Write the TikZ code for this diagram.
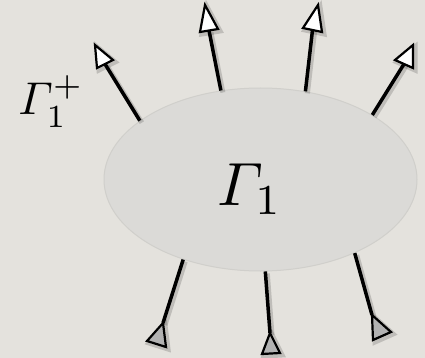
\documentclass[tikz,border=0pt]{standalone}
\usepackage{amsmath}
\usetikzlibrary{shapes.geometric}
\definecolor{paper}{HTML}{E4E2DD}
\definecolor{blobgray}{HTML}{DBDAD7}
\definecolor{blobedge}{HTML}{D0CFCB}
\definecolor{tipgray}{HTML}{B2B2B2}
\tikzset{
  softshadow/.style={preaction={draw=black, draw opacity=0.16, fill opacity=0.16, line width=5pt, transform canvas={shift={(2pt,-2pt)}}}},
  shaft/.style={line width=3.5pt, softshadow},
  tipout/.style={draw=black, fill=white, line width=2.2pt, line join=miter, softshadow},
  tipin/.style={draw=black, fill=tipgray, line width=2.2pt, line join=miter, softshadow},
  blobstyle/.style={ellipse, minimum width=313pt, minimum height=183pt, inner sep=0pt, fill=blobgray, draw=blobedge, line width=1pt},
  txtstyle/.style={inner sep=0pt, anchor=base}
}
\begin{document}
\begin{tikzpicture}[x=1pt,y=-1pt]
\fill[paper] (0,0) rectangle (425,358);
\useasboundingbox (0,0) rectangle (425,358);
\node[blobstyle] (blob) at (260.5,179.5) {};
\node[txtstyle] (g1) at (250,205) {\scalebox{6.1}{$\varGamma_{1}$}};
\node[txtstyle] (g1p) at (51,115) {\scalebox{4.6}{$\varGamma_{1}^{+}$}};
% outgoing arrow heads: apex a, base corners b c, base middle m
\coordinate (t1a) at (95,45);  \coordinate (t1b) at (113,60); \coordinate (t1c) at (97,68);  \coordinate (t1m) at (105,64);
\coordinate (t2a) at (205,5);  \coordinate (t2b) at (218,29); \coordinate (t2c) at (200,32); \coordinate (t2m) at (209,30.5);
\coordinate (t3a) at (318,5);  \coordinate (t3b) at (322,32); \coordinate (t3c) at (303,28); \coordinate (t3m) at (312.5,30);
\coordinate (t4a) at (413,45); \coordinate (t4b) at (413,68); \coordinate (t4c) at (395,60); \coordinate (t4m) at (404,64);
% incoming arrow heads
\coordinate (b1a) at (163,323); \coordinate (b1b) at (166,347); \coordinate (b1c) at (147,341);
\coordinate (b2a) at (270,333); \coordinate (b2b) at (280,353); \coordinate (b2c) at (262,354);
\coordinate (b3a) at (372,315); \coordinate (b3b) at (391,332); \coordinate (b3c) at (373,340);
\draw[shaft] (blob.154.5) -- (t1m);
\draw[shaft] (blob.114.7) -- (t2m);
\draw[shaft] (blob.63.4) -- (t3m);
\draw[shaft] (blob.30) -- (t4m);
\draw[shaft] (blob.-134) -- (b1a);
\draw[shaft] (blob.-87.4) -- (b2a);
\draw[shaft] (blob.-38.2) -- (b3a);
\draw[tipout] (t1a) -- (t1b) -- (t1c) -- cycle;
\draw[tipout] (t2a) -- (t2b) -- (t2c) -- cycle;
\draw[tipout] (t3a) -- (t3b) -- (t3c) -- cycle;
\draw[tipout] (t4a) -- (t4b) -- (t4c) -- cycle;
\draw[tipin] (b1a) -- (b1b) -- (b1c) -- cycle;
\draw[tipin] (b2a) -- (b2b) -- (b2c) -- cycle;
\draw[tipin] (b3a) -- (b3b) -- (b3c) -- cycle;
\end{tikzpicture}
\end{document}
